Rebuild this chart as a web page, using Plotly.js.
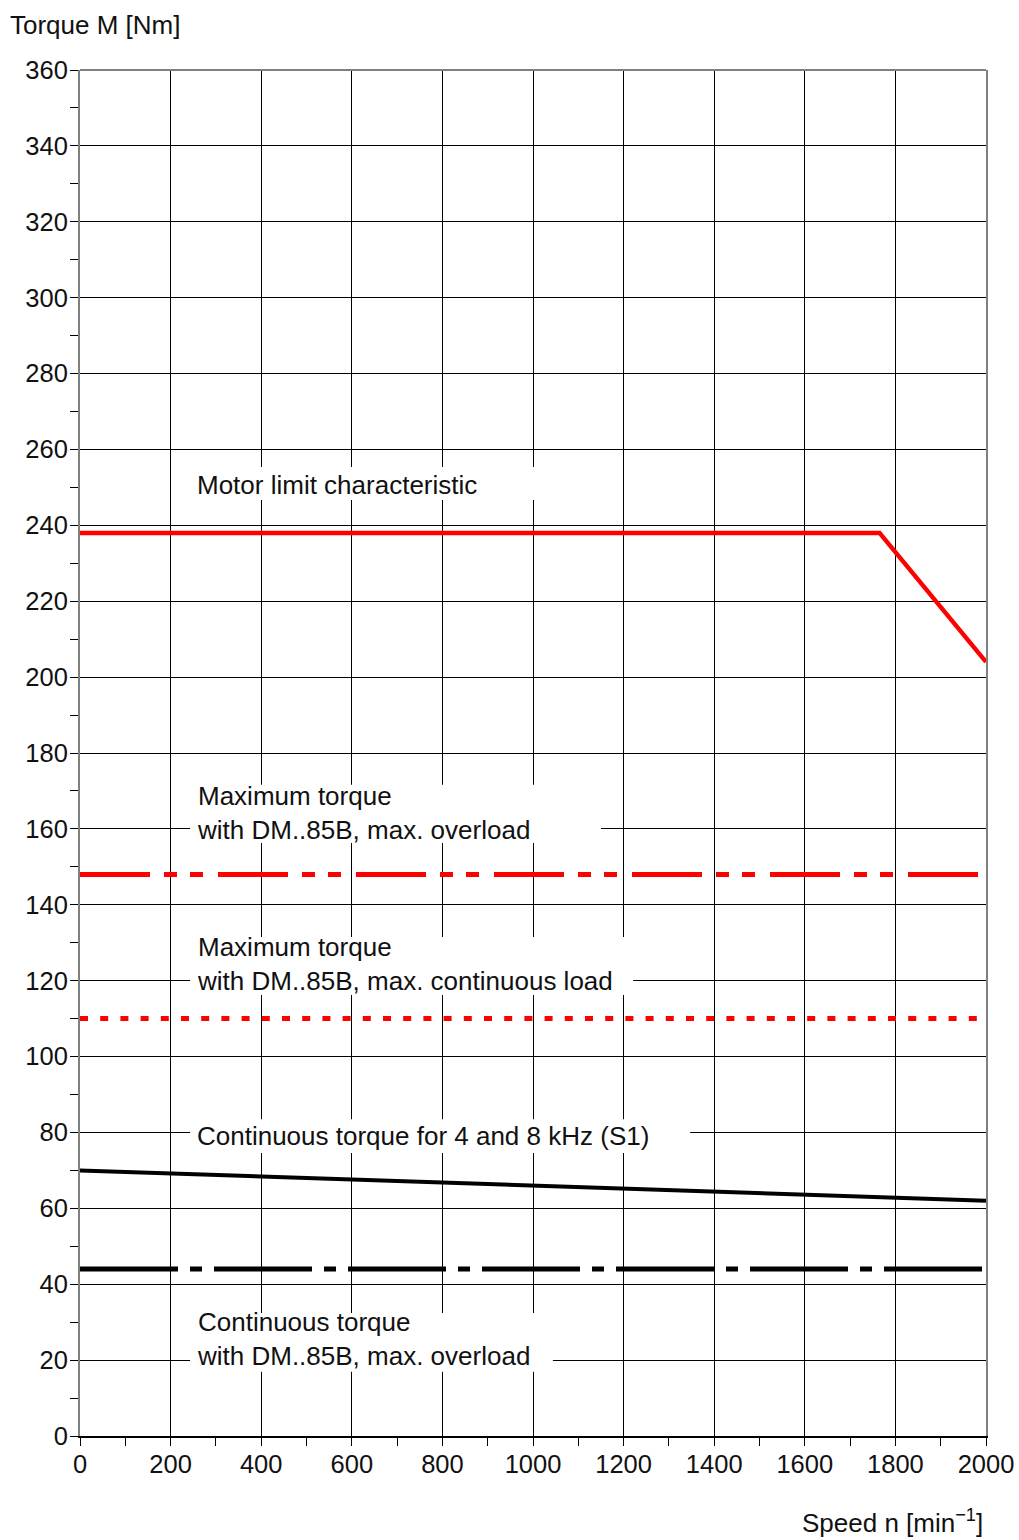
<!DOCTYPE html>
<html>
<head>
<meta charset="utf-8">
<script src="https://cdn.plot.ly/plotly-3.0.1.min.js"></script>
<style>
  html, body { margin: 0; padding: 0; background: #ffffff; }
  #chart { width: 1019px; height: 1540px; }
</style>
</head>
<body>
<div id="chart"></div>
<script>
// ---- Data ----
const speedTicks = [0, 200, 400, 600, 800, 1000, 1200, 1400, 1600, 1800, 2000];
const speedTickLabels = ["0", "200", "400", "600", "800", "1000", "1200", "1400", "1600", "1800", "2000"];
const torqueTicks = [0, 20, 40, 60, 80, 100, 120, 140, 160, 180, 200, 220, 240, 260, 280, 300, 320, 340, 360];
const torqueTickLabels = torqueTicks.map(String);

// Motor limit characteristic
const motorLimitSpeed = [0, 1765, 2000];
const motorLimitTorque = [238, 238, 204];

// Maximum torque with DM..85B, max. overload
const maxOverloadSpeed = [0, 2000];
const maxOverloadTorque = [148, 148];

// Maximum torque with DM..85B, max. continuous load
const maxContinuousSpeed = [0, 2000];
const maxContinuousTorque = [110, 110];

// Continuous torque for 4 and 8 kHz (S1)
const contS1Speed = [0, 2000];
const contS1Torque = [70, 62];

// Continuous torque with DM..85B, max. overload
const contOverloadSpeed = [0, 2000];
const contOverloadTorque = [44, 44];

// Label texts
const labelTexts = [
  "Motor limit characteristic",
  "Maximum torque<br>with DM..85B, max. overload",
  "Maximum torque<br>with DM..85B, max. continuous load",
  "Continuous torque for 4 and 8 kHz (S1)",
  "Continuous torque<br>with DM..85B, max. overload"
];

// ---- Styling / layout ----
const FONT = "Liberation Sans, Arial, Helvetica, sans-serif";
const RED = "#ff0000";
const BLACK = "#000000";
const TXT = "#111111";

const traces = [
  { x: motorLimitSpeed, y: motorLimitTorque, mode: "lines",
    line: { color: RED, width: 4.5 }, name: "Motor limit characteristic" },
  { x: maxOverloadSpeed, y: maxOverloadTorque, mode: "lines",
    line: { color: RED, width: 5, dash: "70px,14px,13px,13px,13px,15px" }, name: "Max overload" },
  { x: maxContinuousSpeed, y: maxContinuousTorque, mode: "lines",
    line: { color: RED, width: 5, dash: "8px,12.2px" }, name: "Max continuous" },
  { x: contS1Speed, y: contS1Torque, mode: "lines",
    line: { color: BLACK, width: 4 }, name: "Continuous S1" },
  { x: contOverloadSpeed, y: contOverloadTorque, mode: "lines",
    line: { color: BLACK, width: 5, dash: "98px,12px,12px,12px" }, name: "Continuous overload" }
];

// label background boxes (data coordinates) and label anchor positions
const boxes = [
  [243, 1015, 246.7, 255.4],
  [243, 1150, 156.3, 171.6],
  [243, 1221, 116.2, 131.5],
  [243, 1347, 74.6, 83.5],
  [243, 1044, 16.9, 32.4]
];
const labelY = [250.6, 164.2, 124.4, 79.1, 25.6];
const labelX = 254;

const shapes = boxes.map(b => ({
  type: "rect", xref: "x", yref: "y",
  x0: b[0], x1: b[1], y0: b[2], y1: b[3],
  fillcolor: "#ffffff", line: { width: 0 }, layer: "above"
}));
shapes.push({
  type: "line", xref: "paper", yref: "paper", x0: 0, x1: 1, y0: 1, y1: 1,
  line: { color: "#808080", width: 2 }, layer: "above"
});

const annotations = labelTexts.map((t, i) => ({
  text: t, x: labelX, y: labelY[i], xref: "x", yref: "y",
  xanchor: "left", yanchor: "middle", align: "left", showarrow: false,
  font: { family: FONT, size: 26, color: TXT }
}));
annotations.push({
  text: "Torque M [Nm]", xref: "paper", yref: "paper",
  x: -0.0795, y: 1.033, xanchor: "left", yanchor: "middle", showarrow: false,
  font: { family: FONT, size: 26, color: TXT }
});
annotations.push({
  text: "Speed n [min<sup>−1</sup>]", xref: "paper", yref: "paper",
  x: 0.999, y: -0.0625, xanchor: "right", yanchor: "middle", showarrow: false,
  font: { family: FONT, size: 26, color: TXT }
});

const layout = {
  width: 1019, height: 1540,
  margin: { l: 80, r: 33, t: 70, b: 104, pad: 0 },
  paper_bgcolor: "#ffffff", plot_bgcolor: "#ffffff",
  showlegend: false,
  font: { family: FONT, size: 25, color: TXT },
  xaxis: {
    range: [0, 2000], tickmode: "array", tickvals: speedTicks, ticktext: speedTickLabels,
    ticks: "outside", ticklen: 8, tickwidth: 1, tickcolor: BLACK,
    ticklabelstandoff: -3,
    showgrid: true, gridcolor: BLACK, gridwidth: 1,
    zeroline: false, showline: true, linecolor: BLACK, linewidth: 1.5, mirror: false,
    tickfont: { family: FONT, size: 25.5, color: TXT },
    minor: { dtick: 100, tick0: 0, ticks: "outside", ticklen: 8, tickwidth: 1, tickcolor: BLACK, showgrid: false },
    fixedrange: true
  },
  yaxis: {
    range: [0, 360], tickmode: "array", tickvals: torqueTicks, ticktext: torqueTickLabels,
    ticks: "outside", ticklen: 8, tickwidth: 1, tickcolor: BLACK,
    ticklabelstandoff: -3,
    showgrid: true, gridcolor: BLACK, gridwidth: 1,
    zeroline: false, showline: true, linecolor: "#808080", linewidth: 2, mirror: true,
    tickfont: { family: FONT, size: 25.5, color: TXT },
    minor: { dtick: 10, tick0: 0, ticks: "outside", ticklen: 8, tickwidth: 1, tickcolor: BLACK, showgrid: false },
    fixedrange: true
  },
  shapes: shapes,
  annotations: annotations
};

Plotly.newPlot("chart", traces, layout, { displayModeBar: false, staticPlot: true });
</script>
</body>
</html>
